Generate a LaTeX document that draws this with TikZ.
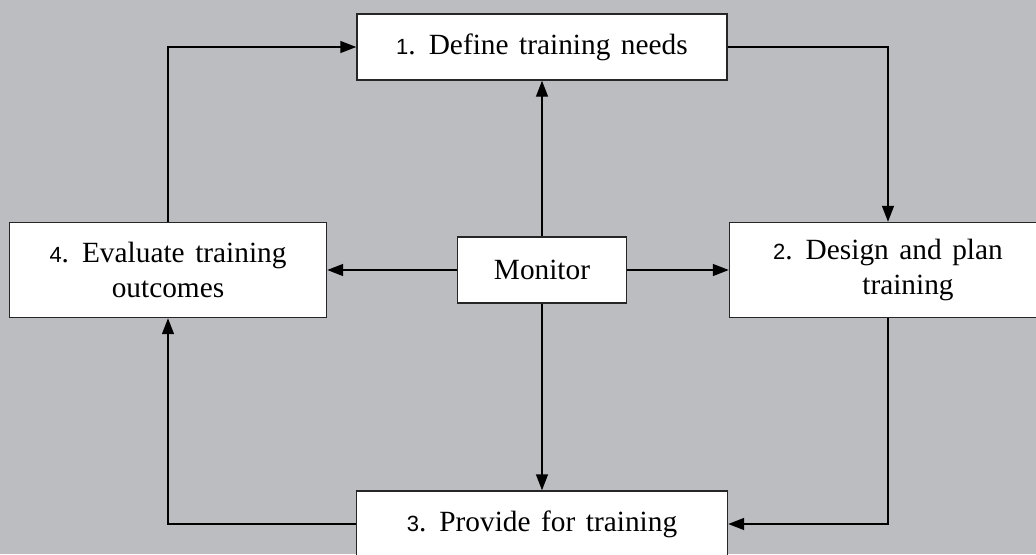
\documentclass[tikz,border=0pt]{standalone}
\usepackage{fontspec}
\setmainfont{Liberation Serif}
\newfontfamily\numfont{Liberation Sans}
\usetikzlibrary{arrows.meta}
\definecolor{bg}{RGB}{188,189,193}
\newcommand{\stepnum}[1]{{\numfont\fontsize{16.5}{20}\selectfont #1}}
\newcommand{\boxfont}{\fontsize{22}{26.5}\selectfont\spaceskip=0.36em\relax}
\begin{document}
\begin{tikzpicture}[x=0.75pt,y=-0.75pt,
  box/.style={draw=black!85, line width=1.1pt, fill=white, inner sep=0pt, align=center,
    font=\boxfont},
  conn/.style={line width=1.1pt, -{Triangle[length=12pt,width=9pt]}}]
\useasboundingbox (0,0) rectangle (1036,554);
\fill[bg] (0,0) rectangle (1036,554);
\clip (0,0) rectangle (1036,554);
\node[box, minimum width=370*0.75pt, minimum height=66*0.75pt] (b1) at (542,47) {\stepnum{1}. Define training needs};
\node[box, minimum width=317*0.75pt, minimum height=95*0.75pt] (b2) at (888,270) {\stepnum{2}. Design and plan\\ \hspace*{30pt}training};
\node[box, minimum width=371*0.75pt, minimum height=66*0.75pt] (b3) at (542,524) {\stepnum{3}. Provide for training};
\node[box, minimum width=317*0.75pt, minimum height=95*0.75pt] (b4) at (168,270) {\stepnum{4}. Evaluate training\\ outcomes};
\node[box, minimum width=169*0.75pt, minimum height=66*0.75pt] (mon) at (542,270) {Monitor};
\draw[conn] (b1.east) -| (b2.north);
\draw[conn] (b2.south) |- (b3.east);
\draw[conn] (b3.west) -| (b4.south);
\draw[conn] (b4.north) |- (b1.west);
\draw[conn] (mon.north) -- (b1.south);
\draw[conn] (mon.south) -- (b3.north);
\draw[conn] (mon.west) -- (b4.east |- mon.west);
\draw[conn] (mon.east) -- (b2.west |- mon.east);
\end{tikzpicture}
\end{document}
